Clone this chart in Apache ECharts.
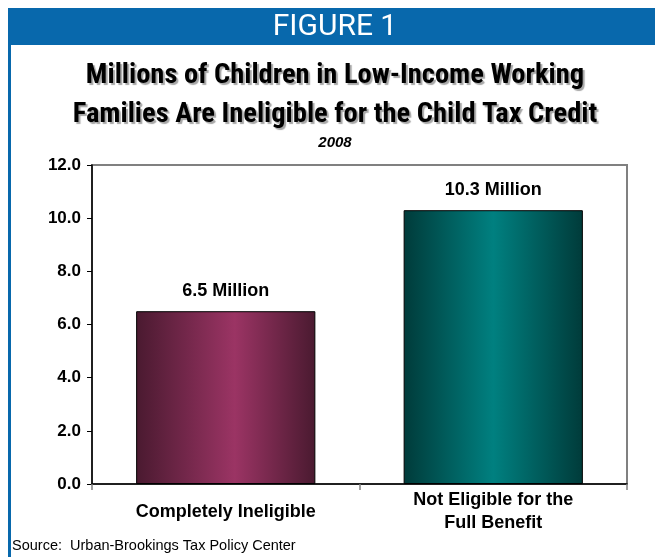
<!DOCTYPE html>
<html><head><meta charset="utf-8">
<script src="https://cdn.jsdelivr.net/npm/echarts@6/dist/echarts.min.js"></script>
<style>html,body{margin:0;padding:0;background:#fff}#c{width:655px;height:557px}</style>
</head><body><div id="c"></div>
<script>
const categories = ['Completely Ineligible', 'Not Eligible for the\nFull Benefit'];
const values = [6.5, 10.3];
const valueLabels = ['6.5 Million', '10.3 Million'];
const yTicks = [0, 2, 4, 6, 8, 10, 12];

const chart = echarts.init(document.getElementById('c'));
function grad(edge, mid, center) {
  return new echarts.graphic.LinearGradient(0, 0, 1, 0, [
    {offset: 0, color: edge}, {offset: center, color: mid}, {offset: 1, color: edge}
  ]);
}
const colors = [grad('#4a1a30', '#9b3464', 0.55), grad('#003b3a', '#008080', 0.5)];
const narrow = '"Liberation Sans Narrow", "Arial Narrow", "Roboto Condensed", sans-serif';
const arial = '"Liberation Sans", Arial, sans-serif';
chart.setOption({
  animation: false,
  graphic: [
    {type: 'rect', shape: {x: 8, y: 8, width: 647, height: 37}, style: {fill: '#0868ac'}},
    {type: 'rect', shape: {x: 8, y: 45, width: 3, height: 512}, style: {fill: '#0868ac'}},
    {type: 'text', x: 335, y: 27, style: {text: 'FIGURE 1', fill: '#fff', font: '30px Roboto, sans-serif', align: 'center', verticalAlign: 'middle'}},
    {type: 'text', x: 335, y: 95, style: {
      text: 'Millions of Children in Low-Income Working\nFamilies Are Ineligible for the Child Tax Credit',
      fill: '#000', font: 'bold 28.5px ' + narrow, align: 'center', verticalAlign: 'middle', lineHeight: 39,
      textShadowColor: 'rgba(0,0,0,0.35)', textShadowOffsetX: 2, textShadowOffsetY: 2, textShadowBlur: 1}},
    {type: 'text', x: 335, y: 143, style: {text: '2008', fill: '#000', font: 'italic bold 15px ' + arial, align: 'center', verticalAlign: 'middle'}},
    {type: 'text', x: 12, y: 546, style: {text: 'Source:  Urban-Brookings Tax Policy Center', fill: '#000', font: '14.5px ' + arial, verticalAlign: 'middle'}}
  ],
  grid: {left: 92, right: 28, top: 165, bottom: 73, show: true, borderColor: '#808080', borderWidth: 2, backgroundColor: 'transparent'},
  xAxis: {
    type: 'category', data: categories,
    axisLine: {lineStyle: {color: '#000', width: 1.5}},
    axisTick: {show: true, length: 6, lineStyle: {color: '#808080', width: 1.5}},
    axisLabel: {color: '#000', fontWeight: 'bold', fontSize: 18, fontFamily: arial, margin: 28, lineHeight: 23, verticalAlign: 'middle'}
  },
  yAxis: {
    type: 'value', min: 0, max: 12, interval: 2,
    axisLine: {show: true, lineStyle: {color: '#000', width: 1.5}},
    axisTick: {show: true, length: 5, lineStyle: {color: '#000'}},
    splitLine: {show: false},
    axisLabel: {color: '#000', fontWeight: 'bold', fontSize: 17, fontFamily: arial, margin: 11,
      formatter: v => v.toFixed(1)}
  },
  series: [{
    type: 'bar', barWidth: '67%',
    data: values.map((v, i) => ({value: v, itemStyle: {color: colors[i], borderColor: '#000', borderWidth: 1}})),
    label: {show: true, position: 'top', distance: 11, color: '#000', fontWeight: 'bold', fontSize: 18,
      fontFamily: arial, formatter: p => valueLabels[p.dataIndex]}
  }]
});
</script></body></html>
